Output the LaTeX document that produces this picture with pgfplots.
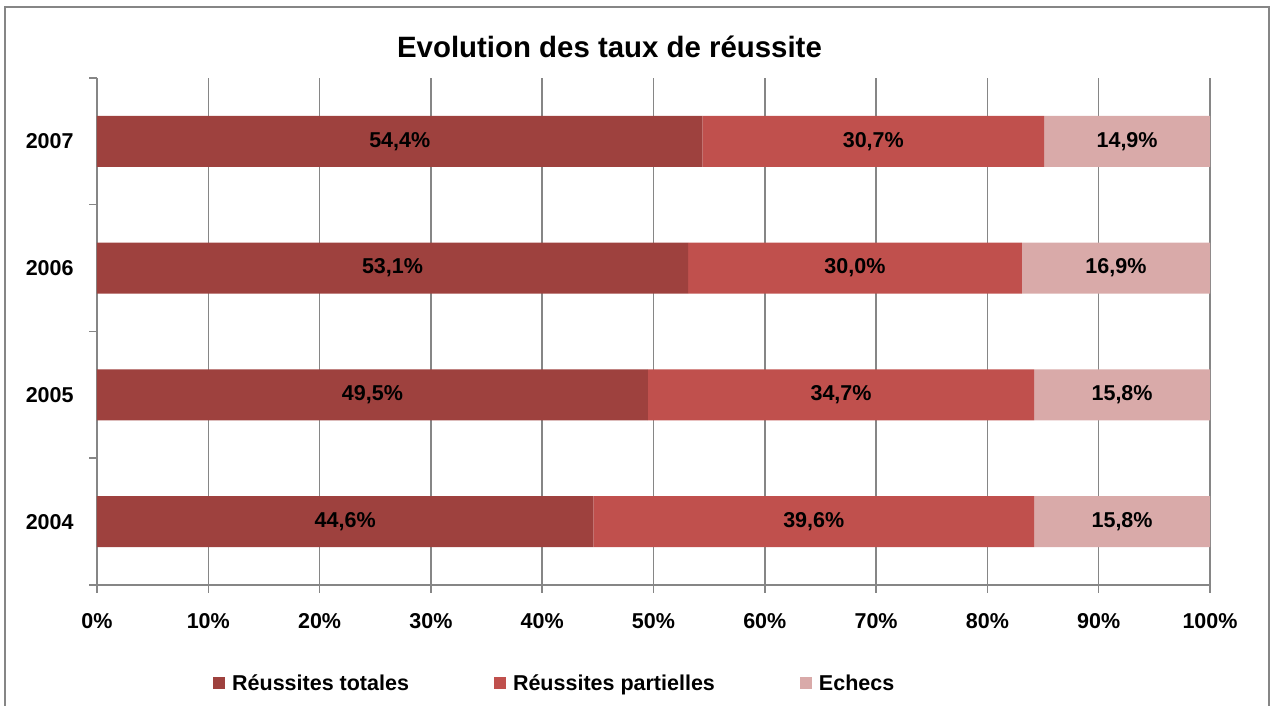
\documentclass[border=0pt]{standalone}
\usepackage{pgfplots}
\pgfplotsset{compat=1.18}
\usepackage{pgfplotstable}
\usepackage{fontspec}
\setmainfont{Liberation Sans}
\definecolor{cA}{HTML}{9E413E}
\definecolor{cB}{HTML}{C0504D}
\definecolor{cC}{HTML}{D9AAA9}
\definecolor{gridc}{HTML}{868686}
\pgfplotstableread{
y v1 v2 v3
1 44.6 39.6 15.8
2 49.5 34.7 15.8
3 53.1 30.0 16.9
4 54.4 30.7 14.9
}\data
\newcommand{\lblfont}{\bfseries\fontsize{10.75}{12}\selectfont}
\begin{document}
\begin{tikzpicture}
\useasboundingbox (0,0) rectangle (635.5pt,353pt);
\draw[gridc, line width=0.75pt] (2.5pt,-10pt) rectangle (634.5pt,349.5pt);
\node[anchor=base, font=\bfseries\fontsize{14.7}{17}\selectfont] at (304.75pt,324pt) {Evolution des taux de réussite};
\begin{axis}[
  at={(48.5pt,60.5pt)}, anchor=south west,
  scale only axis, width=556.5pt, height=253.5pt,
  xbar stacked, bar width=25.5pt,
  xmin=0, xmax=100, ymin=0.5, ymax=4.5,
  axis x line*=bottom, axis y line*=left,
  axis line style={gridc, line width=0.75pt},
  xtick={0,10,...,100},
  xticklabels={0\%,10\%,20\%,30\%,40\%,50\%,60\%,70\%,80\%,90\%,100\%},
  ytick={1,2,3,4}, yticklabels={2004,2005,2006,2007},
  minor ytick={0.5,1.5,2.5,3.5,4.5},
  xmajorgrids, major grid style={gridc, line width=0.75pt},
  tick align=outside,
  major tick length=4pt, minor tick length=4pt,
  every major x tick/.append style={gridc, line width=0.75pt},
  every major y tick/.append style={draw=none},
  every minor y tick/.append style={gridc, line width=0.75pt},
  tick label style={font=\lblfont},
  xticklabel style={inner sep=0pt, anchor=north, yshift=-10pt},
  yticklabel style={inner sep=0pt, anchor=east, xshift=-7.5pt},
  /pgf/number format/assume math mode=true,
  point meta=explicit,
  nodes near coords={\pgfmathprintnumber[fixed,fixed zerofill,precision=1,use comma]{\pgfplotspointmeta}\%},
  every node near coord/.append style={font=\lblfont, black, anchor=center},
  legend columns=3,
  legend style={at={(0.104,-0.215)}, anchor=south west, draw=none, fill=none, inner sep=0pt,
    font=\lblfont, nodes={inner sep=0pt},
    /tikz/every odd column/.append style={column sep=3.5pt},
    /tikz/every even column/.append style={column sep=42.5pt}},
  legend image code/.code={\fill[#1] (0pt,-2.5pt) rectangle (6pt,3.5pt);},
]
\addplot[fill=cA, draw=none] table[x=v1, y=y, meta=v1] {\data};
\addplot[fill=cB, draw=none] table[x=v2, y=y, meta=v2] {\data};
\addplot[fill=cC, draw=none] table[x=v3, y=y, meta=v3] {\data};
\legend{Réussites totales, Réussites partielles, Echecs}
\end{axis}
\end{tikzpicture}
\end{document}
